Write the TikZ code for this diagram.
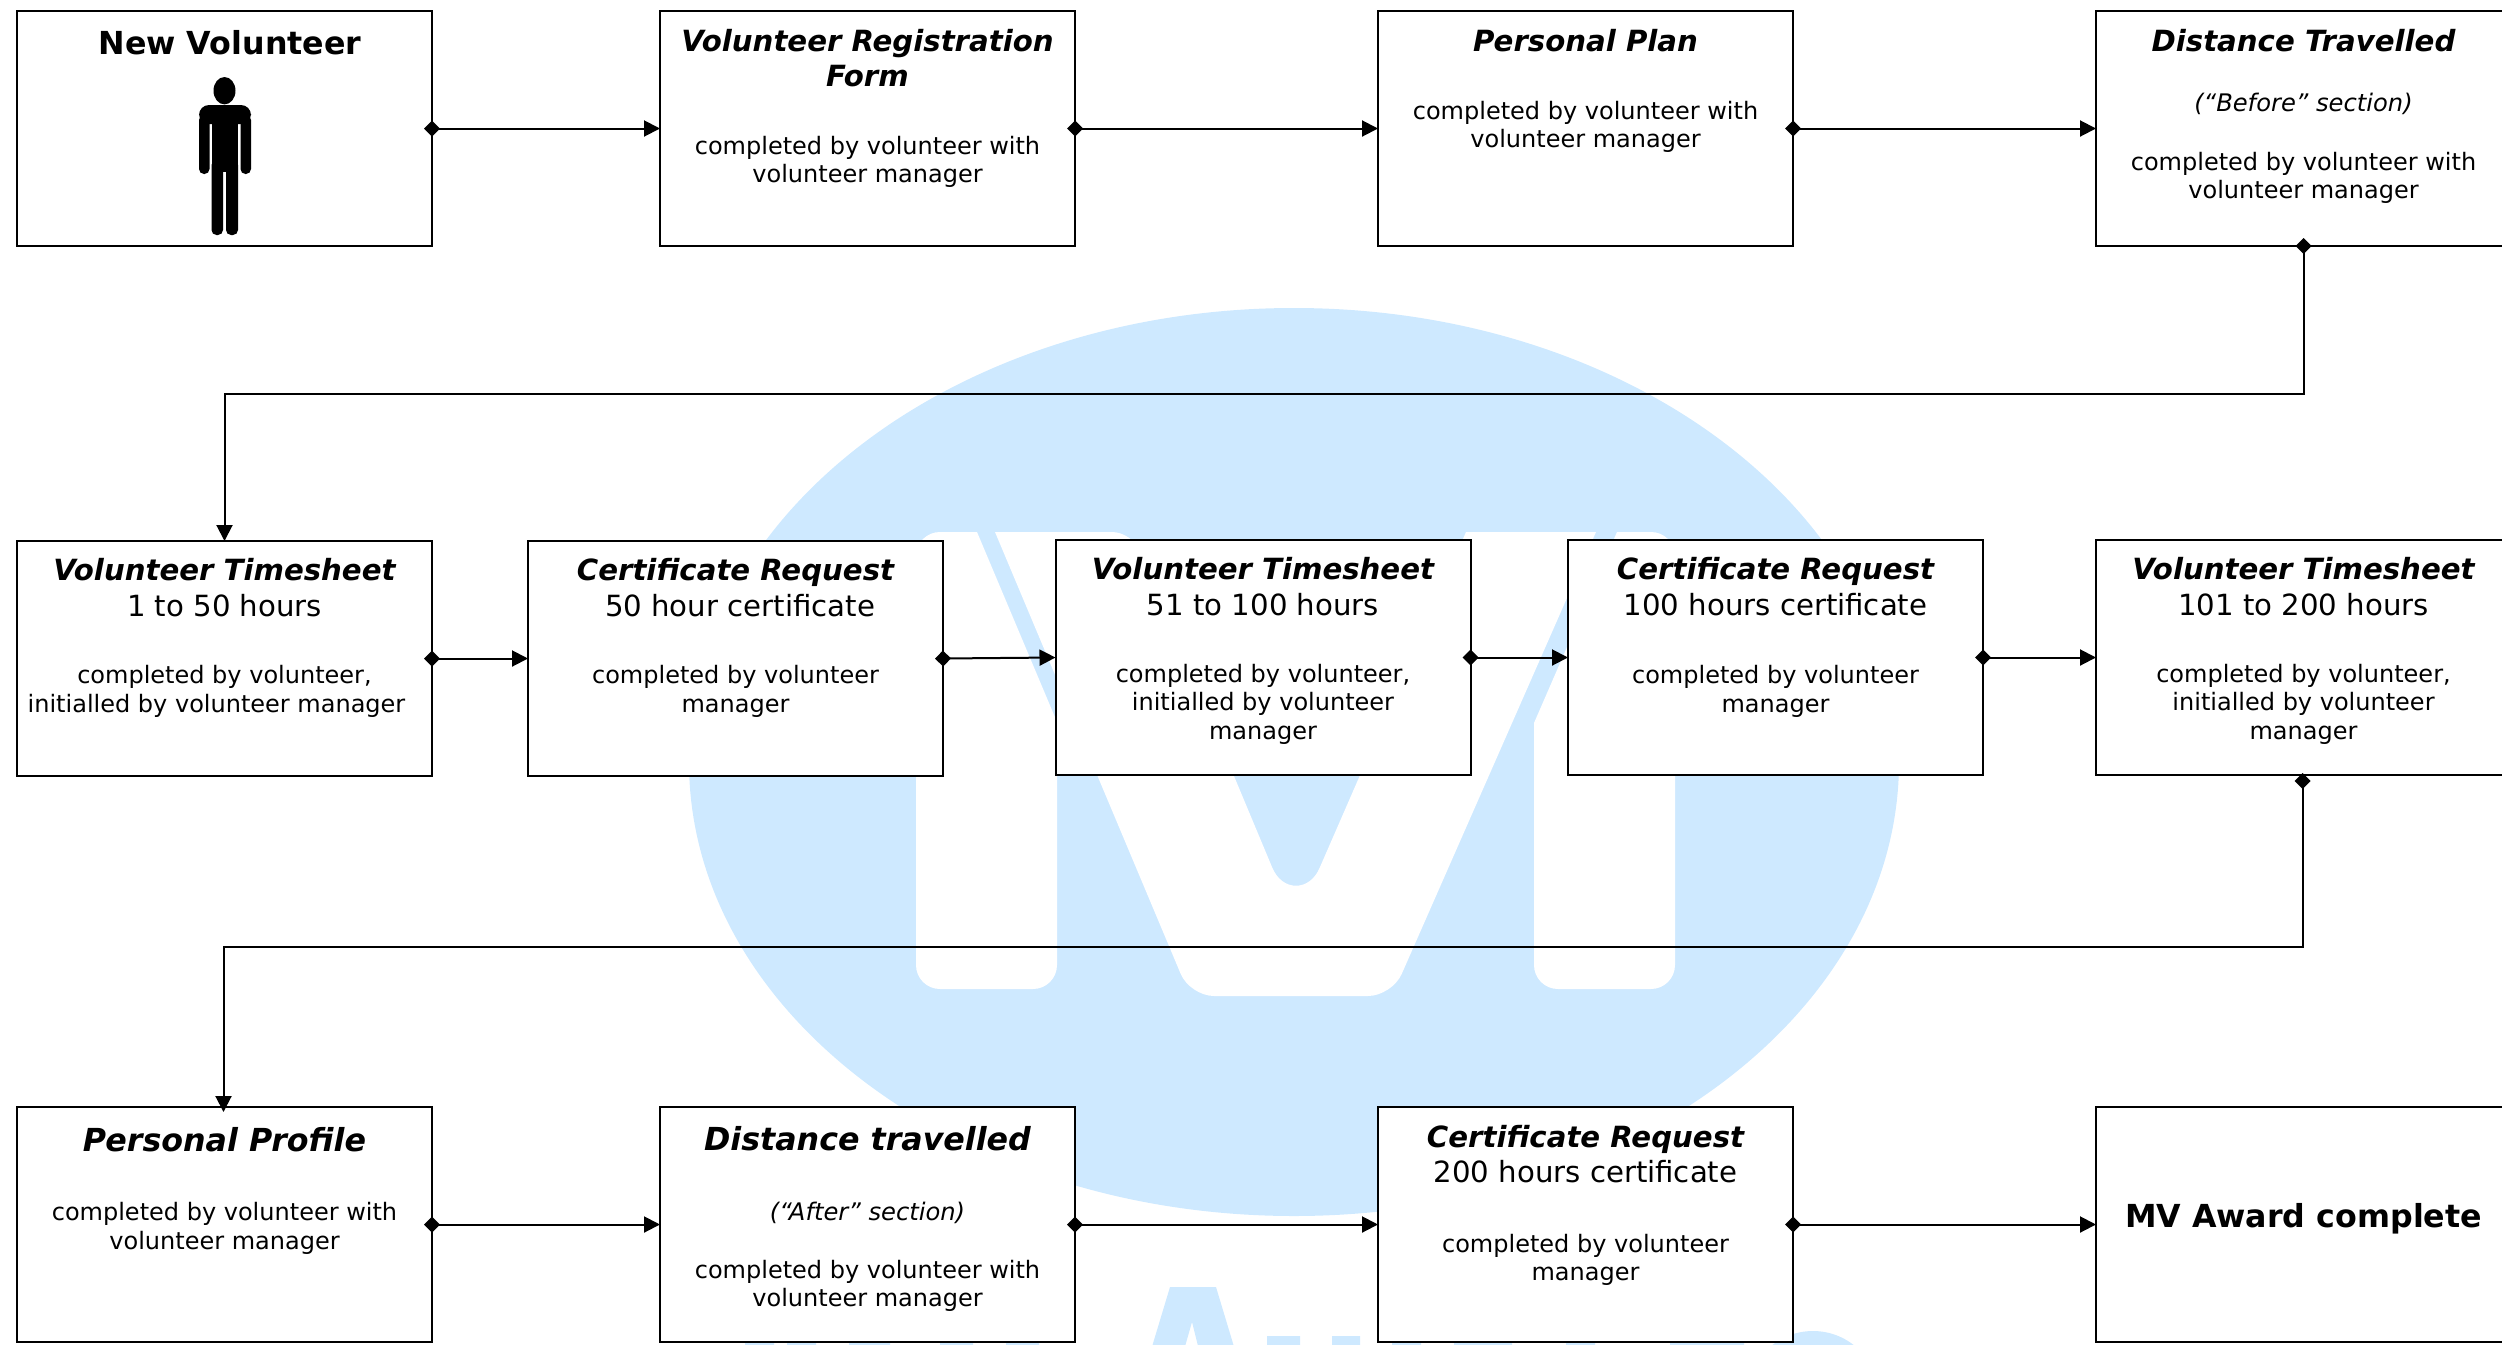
\documentclass[tikz,border=0pt]{standalone}
\usepackage{fontspec}
\setmainfont{DejaVu Sans}
\usetikzlibrary{arrows.meta}
\definecolor{wm}{HTML}{CEE9FF}
\newcommand\lines[1]{\begin{tabular}[t]{@{}c@{}}#1\end{tabular}}
\tikzset{
  flowbox/.style={draw=black,line width=1pt,fill=white,minimum width=207.5pt,minimum height=117.5pt,inner sep=0pt,outer sep=0pt},
  conn/.style={line width=1pt,draw=black,{Diamond[length=8pt,width=8pt]}-{Triangle[length=8pt,width=8pt]},shorten <=-4pt},
  txt/.style={anchor=base,inner sep=0pt,outer sep=0pt,text=black},
  ttl/.style={txt,font=\fontsize{14.6}{17.6}\selectfont\bfseries\itshape},
  ttlb/.style={txt,font=\fontsize{15.85}{17.6}\selectfont\bfseries\itshape},
  sub/.style={txt,font=\fontsize{14.6}{17.6}\selectfont},
  body/.style={txt,font=\fontsize{12}{14.35}\selectfont},
  note/.style={txt,font=\fontsize{12.1}{14.35}\selectfont\itshape},
  hero/.style={txt,font=\fontsize{15.85}{17.6}\selectfont\bfseries},
}
\begin{document}
\begin{tikzpicture}[x=0.5pt,y=-0.5pt]
\useasboundingbox (0,0) rectangle (2502,1345);
\clip (0,0) rectangle (2502,1345);
% watermark
\fill[wm] (1294,762) ellipse [x radius=605,y radius=454];
\fill[white,rounded corners=12pt] (916,760) -- (916,532) [sharp corners] -- (977,532) -- (1057,722) [rounded corners=12pt] -- (1057,989) -- (916,989) -- cycle;
\fill[white] (995,532) [rounded corners=10pt] -- (1132,532) [sharp corners] -- (1272,867) .. controls (1282,892) and (1310,892) .. (1320,867) -- (1466,532) -- (1596,532) [rounded corners=12pt] -- (1392,996) -- (1190,996) [sharp corners] -- cycle;
\fill[white,rounded corners=12pt] (1534,860) [sharp corners] -- (1534,723) -- (1617,532) [rounded corners=12pt] -- (1675,532) -- (1675,989) -- (1534,989) -- cycle;
\begin{scope}
\clip (0,1280) rectangle (2502,1344);
\fill[wm,even odd rule] (1170,1287) -- (1216,1287) -- (1235,1350) -- (1151,1350) -- cycle (1192,1322) -- (1199,1350) -- (1184,1350) -- cycle;
\fill[wm] (1267,1336) rectangle (1300,1350) (1332,1336) rectangle (1360,1350);
\fill[wm] (1813,1397) circle [radius=66];
\fill[wm] (745,1340) rectangle (774,1350) (787,1340) rectangle (816,1350) (849,1340) rectangle (890,1350) (940,1340) rectangle (973,1350) (1006,1340) rectangle (1039,1350);
\fill[wm] (1392,1340) rectangle (1421,1350) (1454,1340) rectangle (1512,1350) (1566,1340) rectangle (1595,1350) (1670,1340) rectangle (1744,1350);
\end{scope}
% boxes
\node[flowbox] (b1) at (224.5,128.5) {};
\node[flowbox] (b2) at (867.5,128.5) {};
\node[flowbox] (b3) at (1585.5,128.5) {};
\node[flowbox] (b4) at (2303.5,128.5) {};
\node[flowbox] (b5) at (224.5,658.5) {};
\node[flowbox] (b6) at (735.5,658.5) {};
\node[flowbox] (b7) at (1263,657.5) {};
\node[flowbox] (b8) at (1775.5,657.5) {};
\node[flowbox] (b9) at (2303.5,657.5) {};
\node[flowbox] (b10) at (224.5,1224.5) {};
\node[flowbox] (b11) at (867.5,1224.5) {};
\node[flowbox] (b12) at (1585.5,1224.5) {};
\node[flowbox] (b13) at (2303.5,1224.5) {};
% connectors
\draw[conn] (b1.east) -- (b2.west);
\draw[conn] (b2.east) -- (b3.west);
\draw[conn] (b3.east) -- (b4.west);
\draw[conn] (b4.south) -- ++(0,148) -| (b5.north);
\draw[conn] (b5.east) -- (b6.west);
\draw[conn] (b6.east) -- (b7.west);
\draw[conn] (b7.east) -- (b8.west);
\draw[conn] (b8.east) -- (b9.west);
\draw[conn,shorten <=-1pt,shorten >=-2.5pt] ([xshift=-0.5pt]b9.south) -- ++(0,172) -| ([xshift=-0.5pt]b10.north);
\draw[conn] (b10.east) -- (b11.west);
\draw[conn] (b11.east) -- (b12.west);
\draw[conn] (b12.east) -- (b13.west);
% person
\fill[black] (224.5,90.7) ellipse [x radius=11,y radius=13.7];
\fill[black,rounded corners=5pt] (199,124) -- (199,105) -- (251,105) -- (251,124) -- cycle;
\fill[black,rounded corners=2.5pt] (199,115) rectangle (209.5,174);
\fill[black,rounded corners=2.5pt] (240.5,115) rectangle (251,174);
\fill[black] (211.5,110) rectangle (238,172);
\fill[black,rounded corners=2.5pt] (211.5,160) rectangle (223,235);
\fill[black,rounded corners=2.5pt] (226,160) rectangle (238,235);
% text, row 1
\node[hero] (t1) at (230,54.5) {New Volunteer};
\node[ttl] (t2) at (867.5,51) {\lines{Volunteer Registration\\Form}};
\node[body] (t2b) at (867.5,154) {\lines{completed by volunteer with\\volunteer manager}};
\node[ttl] (t3) at (1585.5,51) {Personal Plan};
\node[body] (t3b) at (1585.5,119) {\lines{completed by volunteer with\\volunteer manager}};
\node[ttl] (t4) at (2303.5,51) {Distance Travelled};
\node[note] (t4n) at (2303.5,111) {(“Before” section)};
\node[body] (t4b) at (2303.5,170) {\lines{completed by volunteer with\\volunteer manager}};
% row 2
\node[ttl] (t5) at (224.5,580) {Volunteer Timesheet};
\node[sub] (t5s) at (224.5,616) {1 to 50 hours};
\node[body] (t5b) at (224.5,683.5) {\lines{completed by volunteer,\\initialled by volunteer manager\hspace{8pt}\mbox{}}};
\node[ttl] (t6) at (735.5,580) {Certificate Request};
\node[sub] (t6s) at (740,616) {50 hour certificate};
\node[body] (t6b) at (735.5,683.5) {\lines{completed by volunteer\\manager}};
\node[ttl] (t7) at (1263,579) {Volunteer Timesheet};
\node[sub] (t7s) at (1263,615) {51 to 100 hours};
\node[body] (t7b) at (1263,682) {\lines{completed by volunteer,\\initialled by volunteer\\manager}};
\node[ttl] (t8) at (1775.5,579) {Certificate Request};
\node[sub] (t8s) at (1775.5,615) {100 hours certificate};
\node[body] (t8b) at (1775.5,683.5) {\lines{completed by volunteer\\manager}};
\node[ttl] (t9) at (2303.5,579) {Volunteer Timesheet};
\node[sub] (t9s) at (2303.5,615) {101 to 200 hours};
\node[body] (t9b) at (2303.5,682) {\lines{completed by volunteer,\\initialled by volunteer\\manager}};
% row 3
\node[ttlb] (t10) at (224.5,1151) {Personal Profile};
\node[body] (t10b) at (224.5,1220.5) {\lines{completed by volunteer with\\volunteer manager}};
\node[ttlb] (t11) at (867.5,1150) {Distance travelled};
\node[note] (t11n) at (867.5,1220.5) {(“After” section)};
\node[body] (t11b) at (867.5,1278) {\lines{completed by volunteer with\\volunteer manager}};
\node[ttl] (t12) at (1585.5,1147) {Certificate Request};
\node[sub] (t12s) at (1585.5,1182) {200 hours certificate};
\node[body] (t12b) at (1585.5,1252) {\lines{completed by volunteer\\manager}};
\node[hero] (t13) at (2303.5,1227.5) {MV Award complete};
\end{tikzpicture}
\end{document}
